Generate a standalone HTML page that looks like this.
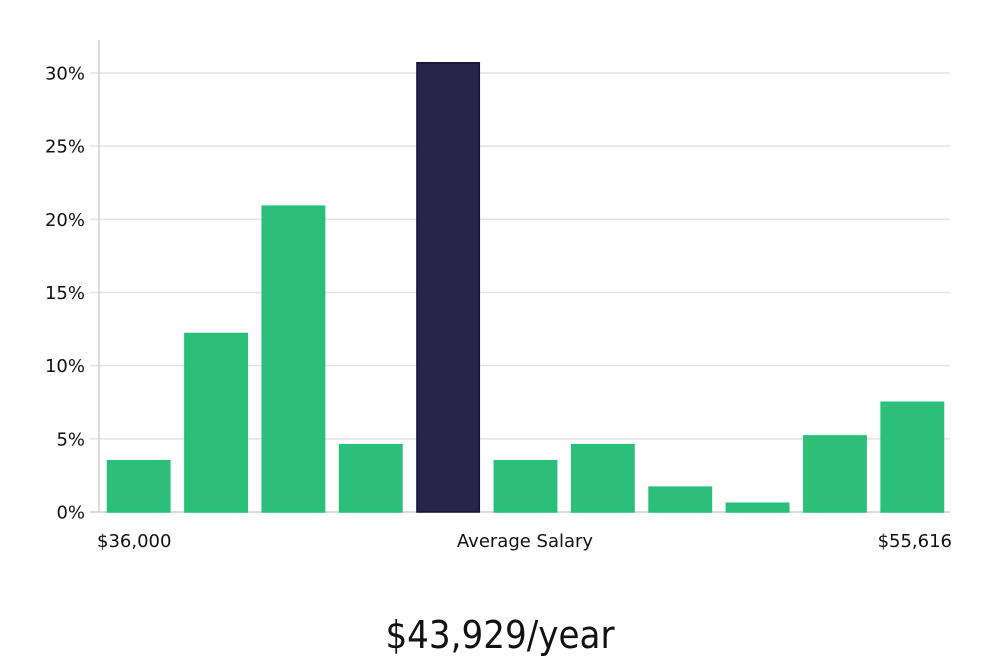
<!DOCTYPE html>
<html><head><meta charset="utf-8"><style>
body{margin:0;background:#fff;width:1000px;height:660px;overflow:hidden}
svg text{font-family:"DejaVu Sans","Liberation Sans",sans-serif;fill:#111}
</style></head><body>
<svg id="chart" width="1000" height="660">
<g id="grid"></g>
<g id="bars"></g>
<line x1="99" y1="40" x2="99" y2="512" stroke="#d0d0d0" stroke-width="1.5"/>
<g id="yticks"></g>
<text x="97" y="547" font-size="18">$36,000</text>
<text x="525" y="547" font-size="18" text-anchor="middle">Average Salary</text>
<text x="952" y="547" font-size="18" text-anchor="end">$55,616</text>
<text x="500" y="648" font-size="38" text-anchor="middle" style="font-family:'Liberation Sans Narrow','DejaVu Sans Condensed','Liberation Sans',sans-serif;font-weight:300">$43,929/year</text>
</svg>
<script>
const values = [3.5, 12.2, 20.9, 4.6, 30.7, 3.5, 4.6, 1.7, 0.6, 5.2, 7.5];
const highlight = [false, false, false, false, true, false, false, false, false, false, false];
const yTicks = [0, 5, 10, 15, 20, 25, 30];
const NS = 'http://www.w3.org/2000/svg';
const x0 = 99, x1 = 950, yBase = 512, yTop30 = 73;
const y = v => yBase - v * (yBase - yTop30) / 30;
const band = (x1 - x0) / values.length;
const grid = document.getElementById('grid'), ticks = document.getElementById('yticks'), bars = document.getElementById('bars');
yTicks.forEach(t => {
  const l = document.createElementNS(NS, 'line');
  
  
  l.setAttribute('x1', 90); l.setAttribute('x2', x1);
  l.setAttribute('y1', y(t)); l.setAttribute('y2', y(t));
  l.setAttribute('stroke', t === 0 ? '#cfcfcf' : '#e3e3e3'); l.setAttribute('stroke-width', 1.5);
  grid.appendChild(l);
  const tx = document.createElementNS(NS, 'text');
  
  
  tx.setAttribute('x', 85); tx.setAttribute('y', y(t) + 6.5);
  tx.setAttribute('text-anchor', 'end'); tx.setAttribute('font-size', 18);
  tx.textContent = t + '%';
  ticks.appendChild(tx);
});
values.forEach((v, i) => {
  const r = document.createElementNS(NS, 'rect');
  
  
  r.setAttribute('x', x0 + i * band + 8.5);
  r.setAttribute('width', band - 15);
  r.setAttribute('y', y(v));
  r.setAttribute('height', yBase - y(v));
  r.setAttribute('fill', highlight[i] ? '#28244a' : '#2bbf78');
  r.setAttribute('stroke', highlight[i] ? '#14123a' : '#25c07a');
  r.setAttribute('stroke-width', 1.5);
  bars.appendChild(r);
});
</script>
</body></html>
